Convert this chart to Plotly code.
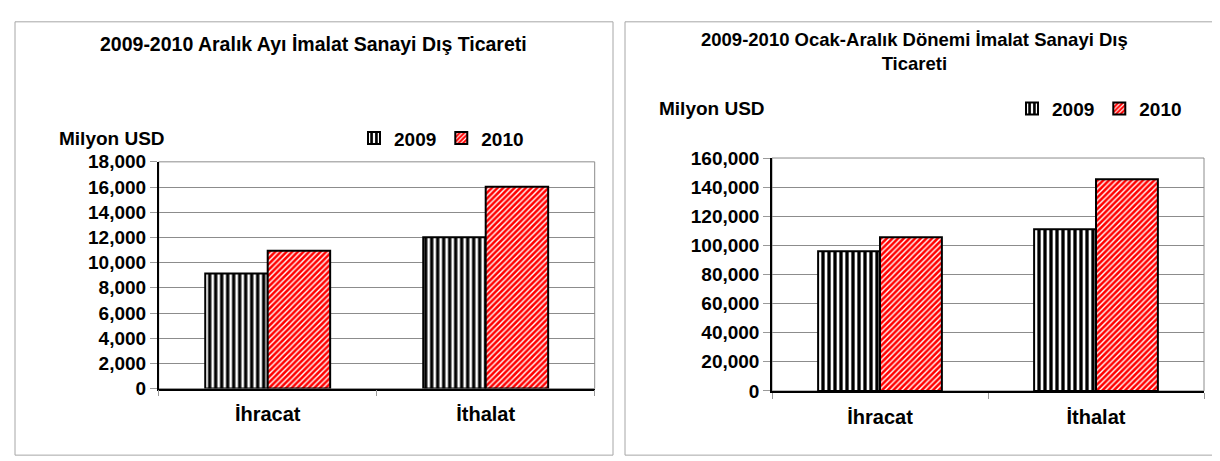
import plotly.graph_objects as go

categories = ["İhracat", "İthalat"]
years = ["2009", "2010"]

aralik_2009 = [9140, 12010]
aralik_2010 = [10950, 16030]

yillik_2009 = [96000, 111100]
yillik_2010 = [105600, 145400]

title_left = "2009-2010 Aralık Ayı İmalat Sanayi Dış Ticareti"
title_right = "2009-2010 Ocak-Aralık Dönemi İmalat Sanayi Dış<br>Ticareti"
unit_label = "Milyon USD"

W, H = 1220, 461
FONT = "Liberation Sans, Arial, sans-serif"

def px(x):
    return x / W

def py(y):
    return 1 - y / H

pat_2009 = dict(shape="|", fgcolor="black", bgcolor="white", size=6, solidity=0.55, fillmode="replace")
pat_2010 = dict(shape="/", fgcolor="white", bgcolor="#ff0000", size=4, solidity=0.35, fillmode="replace")

line_style = dict(color="black", width=2)

fig = go.Figure()
fig.add_trace(go.Bar(x=categories, y=aralik_2009, name=years[0], xaxis="x", yaxis="y",
                     marker=dict(color="white", pattern=pat_2009, line=line_style), legend="legend"))
fig.add_trace(go.Bar(x=categories, y=aralik_2010, name=years[1], xaxis="x", yaxis="y",
                     marker=dict(color="#ff0000", pattern=pat_2010, line=line_style), legend="legend"))
fig.add_trace(go.Bar(x=categories, y=yillik_2009, name=years[0], xaxis="x2", yaxis="y2",
                     marker=dict(color="white", pattern=pat_2009, line=line_style), legend="legend2"))
fig.add_trace(go.Bar(x=categories, y=yillik_2010, name=years[1], xaxis="x2", yaxis="y2",
                     marker=dict(color="#ff0000", pattern=pat_2010, line=line_style), legend="legend2"))

tickfont = dict(family=FONT, size=19, color="black", weight="bold")
catfont = dict(family=FONT, size=20, color="black", weight="bold")
legfont = dict(family=FONT, size=19, color="black", weight="bold")

xcommon = dict(type="category", showline=True, linecolor="black", linewidth=1.5,
               ticks="outside", tickson="boundaries", ticklen=6, tickcolor="#999999",
               tickfont=catfont, ticklabelstandoff=7, showgrid=False, fixedrange=True)
ycommon = dict(showline=True, linecolor="black", linewidth=1.5, ticks="outside", ticklen=7,
               tickcolor="#999999", gridcolor="#8c8c8c", gridwidth=1, tickfont=tickfont,
               tickformat=",d", zeroline=False, fixedrange=True)

fig.update_layout(
    width=W, height=H,
    margin=dict(l=0, r=0, t=0, b=0),
    paper_bgcolor="white", plot_bgcolor="white",
    barmode="group", bargap=0.427, bargroupgap=0,
    xaxis=dict(domain=[px(150.7), px(586.7)], anchor="y", **xcommon),
    yaxis=dict(domain=[py(388.3), py(150.7)], anchor="x", range=[0, 18000], dtick=2000, **ycommon),
    xaxis2=dict(domain=[px(764), px(1196)], anchor="y2", **xcommon),
    yaxis2=dict(domain=[py(390.7), py(146.7)], anchor="x2", range=[0, 160000], dtick=20000, **ycommon),
    legend=dict(orientation="h", x=px(346), y=py(126), xanchor="left", yanchor="middle",
                font=legfont, bgcolor="rgba(0,0,0,0)", itemwidth=30, traceorder="normal"),
    legend2=dict(orientation="h", x=px(1004), y=py(95), xanchor="left", yanchor="middle",
                 font=legfont, bgcolor="rgba(0,0,0,0)", itemwidth=30, traceorder="normal"),
    showlegend=True,
)

shapes = []
shapes.append(dict(type="rect", xref="paper", yref="paper", x0=px(7), x1=px(605), y0=py(458), y1=py(4),
                   line=dict(color="#a6a6a6", width=1), layer="below"))
shapes.append(dict(type="rect", xref="paper", yref="paper", x0=px(617), x1=px(1214), y0=py(458), y1=py(4),
                   line=dict(color="#a6a6a6", width=1), layer="below"))
for xr, yr in (("x domain", "y domain"), ("x2 domain", "y2 domain")):
    shapes.append(dict(type="rect", xref=xr, yref=yr, x0=0, x1=1, y0=0, y1=1,
                       line=dict(color="#8c8c8c", width=1), layer="below"))
fig.update_layout(shapes=shapes)

unitfont = dict(family=FONT, size=19, color="black", weight="bold")
anns = [
    dict(text=title_left, x=px(305), y=py(27), xref="paper", yref="paper", showarrow=False,
         xanchor="center", yanchor="middle", font=dict(family=FONT, size=19.5, color="black", weight="bold")),
    dict(text=title_right, x=px(906), y=py(35.5), xref="paper", yref="paper", showarrow=False,
         xanchor="center", yanchor="middle", font=dict(family=FONT, size=18.5, color="black", weight="bold")),
    dict(text=unit_label, x=px(49), y=py(126), xref="paper", yref="paper", showarrow=False,
         xanchor="left", yanchor="middle", font=unitfont),
    dict(text=unit_label, x=px(649), y=py(95), xref="paper", yref="paper", showarrow=False,
         xanchor="left", yanchor="middle", font=unitfont),
]
fig.update_layout(annotations=anns)

fig.write_html("out.html")
